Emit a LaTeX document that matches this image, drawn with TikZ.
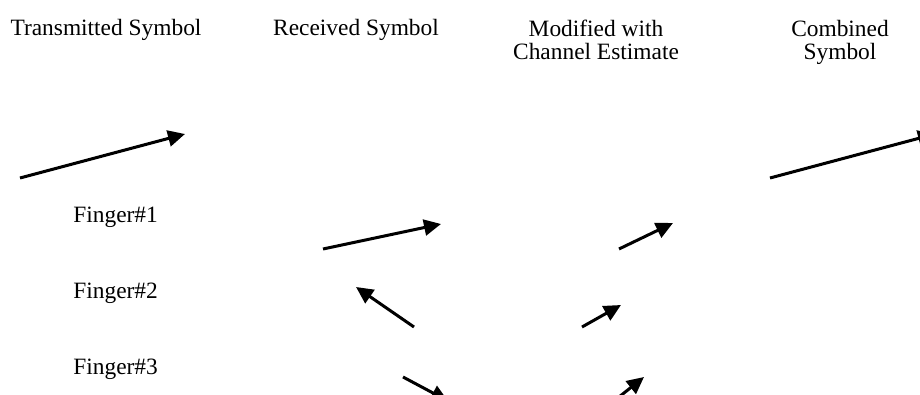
\documentclass[tikz,border=0pt]{standalone}
\usepackage{fontspec}
\setmainfont{Liberation Serif}
\usepackage{tikz}
\usetikzlibrary{positioning,arrows.meta,calc}
\tikzset{
    x=0.5pt,
    y=-0.5pt,
    heading/.style = {
        align=center,
        inner sep=0pt,
        anchor=base,
        font=\fontsize{11.7}{11.9}\selectfont
    },
    finger/.style = {
        inner sep=0pt,
        anchor=base west,
        font=\fontsize{11.7}{11.75}\selectfont
    },
    symbol/.style = {
        draw,
        ->,
        line width=1.5pt
    },
    >={Triangle[length=8.5pt,width=8pt]},
}

\begin{document}
\begin{tikzpicture}
            \useasboundingbox (0,0) rectangle (920,395);
            \clip (0,0) rectangle (920,395);

            % base of a two line heading is its last line
            \node[heading] (tx) at (106,36) {Transmitted Symbol};
            \node[heading] (rx) at (356,36) {Received Symbol};
            \node[heading] (mod) at (596,60) {Modified with\\Channel Estimate};
            \node[heading] (comb) at (840,60) {Combined\\Symbol};

            \node[finger] (f1) at (73,222) {Finger\#1};
            \node[finger] (f2) at (73,298) {Finger\#2};
            \node[finger] (f3) at (73,374) {Finger\#3};

            % transmitted and combined
            \coordinate (tx0) at (20,178);
            \coordinate (tx1) at (185,134);
            \coordinate (comb0) at (770,178);
            \coordinate (comb1) at (935,134);

            % finger symbols, received and modified
            \coordinate (rx10) at (323,249);
            \coordinate (rx11) at (441,224);
            \coordinate (mod10) at (619,249);
            \coordinate (mod11) at (673,223);
            \coordinate (rx20) at (414,327);
            \coordinate (rx21) at (356,287);
            \coordinate (mod20) at (582,327);
            \coordinate (mod21) at (621,305);
            \coordinate (rx30) at (403,377);
            \coordinate (rx31) at (448,401);
            \coordinate (mod30) at (614,401);
            \coordinate (mod31) at (644,377);

            \path[symbol] (tx0) -- (tx1);
            \path[symbol] (comb0) -- (comb1);
            \path[symbol] (rx10) -- (rx11);
            \path[symbol] (mod10) -- (mod11);
            \path[symbol] (rx20) -- (rx21);
            \path[symbol] (mod20) -- (mod21);
            \path[symbol] (rx30) -- (rx31);
            \path[symbol] (mod30) -- (mod31);
        \end{tikzpicture}
\end{document}
